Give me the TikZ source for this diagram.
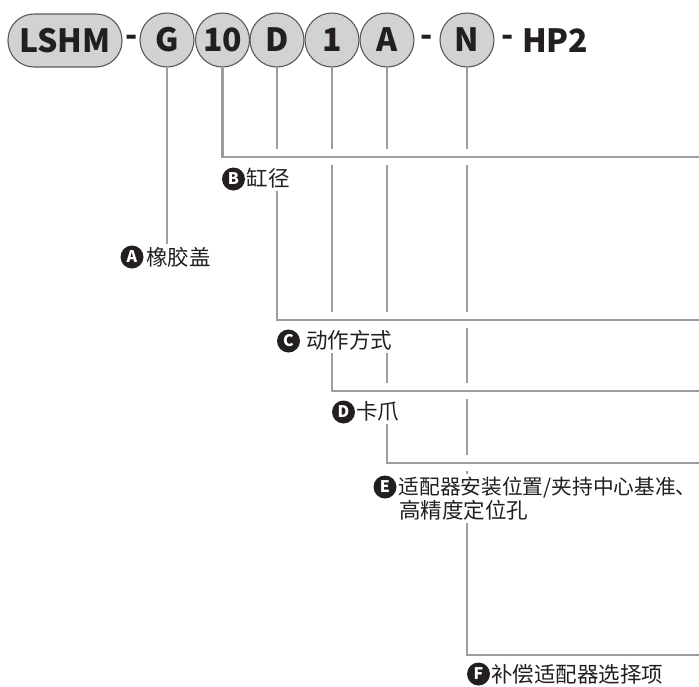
\documentclass[tikz,border=0pt]{standalone}
\usepackage{fontspec}
\setmainfont{Noto Sans CJK SC}
\usetikzlibrary{calc,backgrounds}
\definecolor{ln}{HTML}{9D9D9F}
\definecolor{cf}{HTML}{D1D2D4}
\definecolor{co}{HTML}{58595B}
\definecolor{tx}{HTML}{231F20}
\tikzset{
  conn/.style={draw=ln, line width=2.5pt},
  band/.style={draw=white, line width=16pt},
  topfont/.style={font=\fontsize{32}{32}\selectfont\bfseries},
  pcirc/.style={circle, draw=co, fill=cf, line width=1.1pt, minimum size=54pt, inner sep=0pt, text=tx, topfont},
  pill/.style={rectangle, rounded corners=26pt, draw=co, fill=cf, line width=1.1pt, minimum width=114pt, minimum height=53pt, inner sep=0pt, text=tx, topfont},
  toptext/.style={text=tx, inner sep=0pt, topfont},
  badge/.style={circle, fill=tx, text=white, minimum size=23pt, inner sep=0pt, font=\fontsize{16}{16}\selectfont\bfseries},
  lbl/.style={fill=white, text=tx, font=\fontsize{21.5}{25}\selectfont, text height=17.8pt, text depth=1.5pt, inner xsep=1pt, inner ysep=3pt, anchor=west},
}
\begin{document}
\begin{tikzpicture}[x=1pt, y=-1pt]
\useasboundingbox (0,0) rectangle (699,686);
% top row
\node[pill] (L) at (65,40.5) {LSHM};
\node[toptext] (d1) at (131.5,40.5) {-};
\node[pcirc] (G) at (167,40) {G};
\node[pcirc] (T) at (222.5,40) {10};
\node[pcirc] (D) at (277,40) {D};
\node[pcirc] (O) at (332,40) {1};
\node[pcirc] (A) at (387,40) {A};
\node[toptext] (d2) at (427,40.5) {-};
\node[pcirc] (N) at (467,40) {N};
\node[toptext] (d3) at (508,40.5) {-};
\node[toptext, anchor=west] (H) at (522,41) {HP2};
% right ends of the horizontal lines
\coordinate (eB) at (699,157);
\coordinate (eC) at (699,320);
\coordinate (eD) at (699,391);
\coordinate (eE) at (699,463);
\coordinate (eF) at (699,655);
% labels
\node[badge] (bA) at (132,257) {A};
\node[lbl] (Atx) at (145,257) {橡胶盖};
\node[badge] (bB) at (233.5,179) {B};
\node[lbl] (Btx) at (245.5,178) {缸径};
\node[badge] (bC) at (288.5,341) {C};
\node[lbl] (Ctx) at (305,340) {动作方式};
\node[badge] (bD) at (343.5,412) {D};
\node[lbl] (Dtx) at (355,411) {卡爪};
\node[badge] (bE) at (385,487) {E};
\node[lbl, font=\fontsize{20.7}{25}\selectfont, inner xsep=0pt] (E1) at (398.5,486.5) {适配器安装位置/夹持中心基准、};
\node[lbl] (E2) at (398,510) {高精度定位孔};
\node[badge] (bF) at (478.5,674) {F};
\node[lbl] (Ftx) at (490,674) {补偿适配器选择项};
% connectors
\begin{scope}[on background layer]
\draw[conn] (G.south) -- (G.south |- Atx.north);
\draw[conn] (T.south) |- (eB);
\draw[conn] (D.south) |- (eC);
\draw[conn] (O.south) |- (eD);
\draw[conn] (A.south) |- (eE);
\draw[conn] (N.south) |- (eF);
% gaps where verticals pass behind horizontals
\draw[band] ($(T.south |- eB)+(8,0)$) -- (eB);
\draw[conn] (T.south |- eB) -- (eB);
\draw[band] ($(D.south |- eC)+(8,0)$) -- (eC);
\draw[conn] (D.south |- eC) -- (eC);
\draw[band] ($(O.south |- eD)+(8,0)$) -- (eD);
\draw[conn] (O.south |- eD) -- (eD);
\draw[band] ($(A.south |- eE)+(8,0)$) -- (eE);
\draw[conn] (A.south |- eE) -- (eE);
\end{scope}
\end{tikzpicture}
\end{document}
